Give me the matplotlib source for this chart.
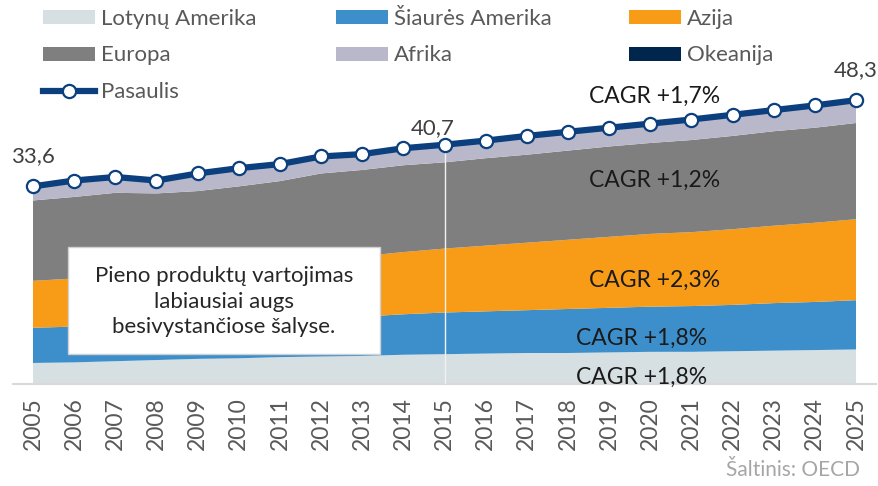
import matplotlib
matplotlib.use("Agg")
import matplotlib.pyplot as plt
from matplotlib.patches import Patch, Rectangle
from matplotlib.lines import Line2D

plt.rcParams['font.family'] = ['Lato', 'DejaVu Sans']

years = list(range(2005, 2026))
lotynu_amerika = [3.5, 3.6, 3.8, 4.0, 4.2, 4.3, 4.5, 4.6, 4.7, 4.9, 5.0,
                  5.1, 5.2, 5.2, 5.3, 5.4, 5.4, 5.5, 5.6, 5.7, 5.8]
siaures_amerika = [6.0, 6.1, 6.2, 6.3, 6.4, 6.5, 6.6, 6.7, 6.7, 6.9, 7.1,
                   7.2, 7.3, 7.5, 7.6, 7.7, 7.8, 7.9, 8.1, 8.2, 8.4]
azija = [8.0, 8.2, 8.5, 8.7, 9.0, 9.4, 9.7, 10.0, 10.3, 10.6, 10.9,
         11.2, 11.5, 11.8, 12.1, 12.4, 12.6, 12.9, 13.2, 13.5, 13.8]
europa = [13.7, 13.9, 14.0, 13.4, 13.2, 13.4, 13.7, 14.5, 14.7, 14.8, 14.7,
          14.9, 15.0, 15.2, 15.4, 15.5, 15.7, 15.9, 16.1, 16.2, 16.4]
afrika = [2.1, 2.5, 2.4, 1.9, 2.7, 2.8, 2.6, 2.6, 2.4, 2.6, 2.6,
          2.6, 2.8, 2.8, 2.8, 2.9, 3.1, 3.2, 3.2, 3.4, 3.5]
okeanija = [0.3, 0.3, 0.3, 0.3, 0.3, 0.3, 0.3, 0.3, 0.3, 0.3, 0.4,
            0.4, 0.4, 0.4, 0.4, 0.4, 0.4, 0.4, 0.4, 0.4, 0.4]
pasaulis = [33.6, 34.6, 35.2, 34.6, 35.8, 36.7, 37.4, 38.7, 39.1, 40.1, 40.7,
            41.4, 42.2, 42.9, 43.6, 44.3, 45.0, 45.8, 46.6, 47.4, 48.3]

series_names = ['Lotynų Amerika', 'Šiaurės Amerika', 'Azija', 'Europa', 'Afrika', 'Okeanija']
colors = ['#d6dfe1', '#3d8fcb', '#f89b17', '#7f7f7f', '#b9b8ca', '#00264d']
line_color = '#0b3f7e'

fig = plt.figure(figsize=(8.79, 4.86), dpi=100)
W, H = 879, 486
ax = fig.add_axes([13 / W, 1 - 383.5 / H, (876 - 13) / W, (383.5 - 31.5) / H])

ax.stackplot(years, lotynu_amerika, siaures_amerika, azija, europa, afrika, okeanija,
             colors=colors, linewidth=0)
ax.vlines(2015, 0, pasaulis[years.index(2015)], color='#f2f2f2', lw=1.0, zorder=3)
ax.plot(years, pasaulis, color=line_color, lw=4.5, marker='o', markersize=9.5,
        markerfacecolor='white', markeredgecolor=line_color, markeredgewidth=1.6, zorder=5,
        clip_on=False)

pad = 20 / 41.15
ax.set_xlim(2005 - pad, 2025 + pad)
ax.set_ylim(0, 60)
ax.set_xticks(years)
ax.set_xticklabels([str(y) for y in years], rotation=90, fontsize=16.5, color='#595959')
ax.tick_params(axis='x', length=0, pad=10)
ax.set_yticks([])
for s in ['left', 'right', 'top']:
    ax.spines[s].set_visible(False)
ax.spines['bottom'].set_color('#d9d9d9')
ax.spines['bottom'].set_linewidth(1.5)
ax.patch.set_alpha(0)

# value labels
lab_kw = dict(fontsize=16, color='#404040', ha='center', va='center')
ax.text(2005, 38.8, '33,6', **lab_kw)
ax.text(2014.72, 43.5, '40,7', **lab_kw)
ax.text(2025, 53.4, '48,3', **lab_kw)

cagr_kw = dict(fontsize=16.5, color='#1a1a1a', ha='center', va='center', zorder=6)
ax.text(2020.1, 49.0, 'CAGR +1,7%', **cagr_kw)
ax.text(2020.1, 34.7, 'CAGR +1,2%', **cagr_kw)
ax.text(2020.1, 17.6, 'CAGR +2,3%', **cagr_kw)
ax.text(2019.8, 7.75, 'CAGR +1,8%', **cagr_kw)
ax.text(2019.8, 1.1, 'CAGR +1,8%', **cagr_kw)

# annotation box
ax.add_patch(Rectangle((2005.85, 5.0), 2013.43 - 2005.85, 23.25 - 5.0,
                       facecolor='white', edgecolor='#d0d0d0', lw=1.0, zorder=7))
ax.text(2009.64, 13.97, 'Pieno produktų vartojimas\nlabiausiai augs\nbesivystančiose šalyse.',
        fontsize=16, color='#262626', ha='center', va='center', linespacing=1.35, zorder=8)

# legends (one per column)
patches = [Patch(facecolor=c, edgecolor='none', label=n) for c, n in zip(colors, series_names)]
line_handle = Line2D([], [], color=line_color, lw=4.5, marker='o', markersize=9.5,
                     markerfacecolor='white', markeredgecolor=line_color, markeredgewidth=1.6,
                     label='Pasaulis')
leg_kw = dict(loc='upper left', frameon=False, fontsize=16, borderpad=0, borderaxespad=0,
              handlelength=2.35, handleheight=0.58, handletextpad=0.25, labelspacing=0.74,
              labelcolor='#595959')
cols = [([patches[0], patches[3], line_handle], 43),
        ([patches[1], patches[4]], 336),
        ([patches[2], patches[5]], 629)]
for handles, xpx in cols:
    lg = fig.legend(handles=handles, bbox_to_anchor=(xpx / W, 1 - 9 / H), **leg_kw)

fig.text(860 / W, 1 - 470 / H, 'Šaltinis: OECD', fontsize=15, color='#a6a6a6',
         ha='right', va='center')

fig.savefig('out.png', dpi=100)
